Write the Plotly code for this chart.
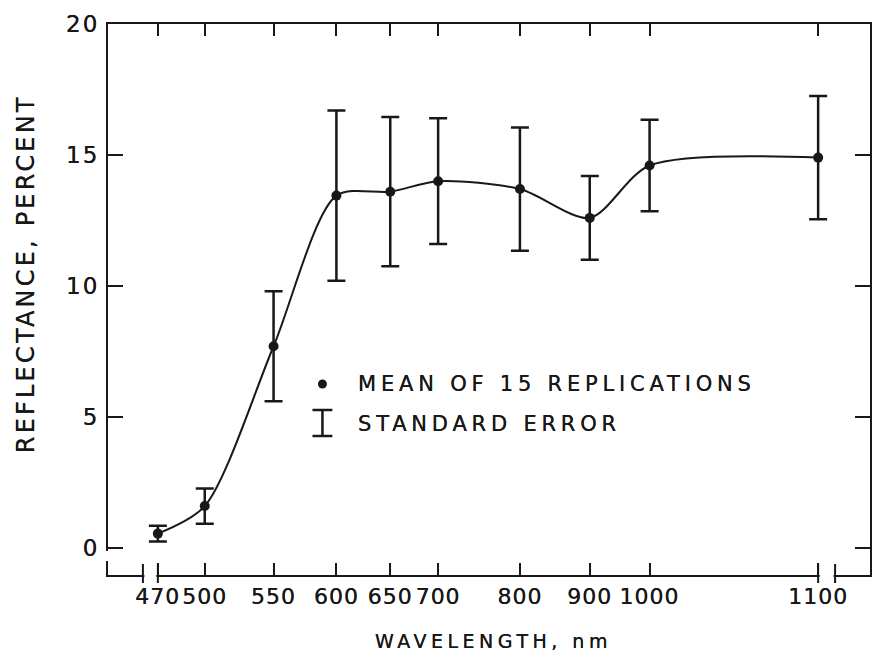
import numpy as np
import plotly.graph_objects as go

# ---------------- data ----------------
wavelength_nm = [470, 500, 550, 600, 650, 700, 800, 900, 1000, 1100]
mean_reflectance = [0.55, 1.6, 7.7, 13.45, 13.6, 14.0, 13.7, 12.6, 14.6, 14.9]
std_error = [0.3, 0.67, 2.1, 3.25, 2.85, 2.4, 2.35, 1.6, 1.75, 2.35]

x_tick_labels = ["470", "500", "550", "600", "650", "700", "800", "900", "1000", "1100"]
y_tick_values = [0, 5, 10, 15, 20]

# non-linear wavelength scale of the original figure (nm -> axis units)
SCALE_NM = [470, 500, 550, 600, 650, 700, 800, 900, 1000, 1100]
SCALE_POS = [50, 97, 166, 229, 283, 331, 413, 483, 543, 712]


def xscale(nm):
    return np.interp(nm, SCALE_NM, SCALE_POS)


# ---------------- geometry ----------------
W, H = 873, 656
L, R, T, B = 108, 872, 24, 575
INK = "#181818"
FONT = "DejaVu Sans"
SHADOW = "0 0 0.5px #181818"


def fx(p):
    return (p - L) / (R - L)


def fy(p):
    return (B - p) / (B - T)


def spaced(s, ls):
    return f'<span style="letter-spacing:{ls}px">{s}</span>'


fig = go.Figure()

fig.add_trace(go.Scatter(
    x=xscale(wavelength_nm),
    y=mean_reflectance,
    mode="lines+markers",
    line=dict(color=INK, width=2, shape="spline", smoothing=0.8),
    marker=dict(color=INK, size=10),
    error_y=dict(type="data", array=std_error, visible=True,
                 color=INK, thickness=2.5, width=9),
    showlegend=False,
    cliponaxis=False,
))

fig.update_xaxes(
    range=[0, R - L],
    tickvals=list(xscale(SCALE_NM)),
    ticktext=[spaced(t, 1) for t in x_tick_labels],
    tickangle=0,
    ticks="inside", ticklen=12, tickwidth=2, tickcolor=INK,
    showline=True, linewidth=2, linecolor=INK, mirror="ticks",
    showgrid=False, zeroline=False,
    tickfont=dict(family=FONT, size=22, color=INK, shadow=SHADOW),
    ticklabelstandoff=1,
)
fig.update_yaxes(
    range=[20 - (B - T) / 26.2, 20],
    tickvals=y_tick_values,
    ticktext=[spaced(str(v), 2) for v in y_tick_values],
    ticks="inside", ticklen=15, tickwidth=2, tickcolor=INK,
    showline=True, linewidth=2, linecolor=INK, mirror="ticks",
    showgrid=False, zeroline=False,
    tickfont=dict(family=FONT, size=23, color=INK, shadow=SHADOW),
    ticklabelstandoff=2,
)

shapes = []
# gap between y axis bottom and broken x axis
shapes.append(dict(type="rect", xref="paper", yref="paper",
                   x0=fx(104), x1=fx(112), y0=fy(561), y1=fy(551),
                   fillcolor="white", line=dict(width=0), layer="above"))
# axis breaks
p470 = L + xscale(470)
p1100 = L + xscale(1100)
for a, b in [(p470 - 15, p470), (p1100, p1100 + 17)]:
    shapes.append(dict(type="rect", xref="paper", yref="paper",
                       x0=fx(a + 1.5), x1=fx(b - 1.5), y0=fy(579), y1=fy(571),
                       fillcolor="white", line=dict(width=0), layer="above"))
    for p in (a, b):
        shapes.append(dict(type="line", xref="paper", yref="paper",
                           x0=fx(p), x1=fx(p), y0=fy(564), y1=fy(583),
                           line=dict(color=INK, width=2), layer="above"))

# legend glyphs
shapes.append(dict(type="circle", xref="paper", yref="paper",
                   x0=fx(318.5), x1=fx(327.5), y0=fy(388.5), y1=fy(379.5),
                   fillcolor=INK, line=dict(width=0), layer="above"))
shapes.append(dict(type="line", xref="paper", yref="paper",
                   x0=fx(323), x1=fx(323), y0=fy(410), y1=fy(436),
                   line=dict(color=INK, width=2.5), layer="above"))
for yy in (410, 436):
    shapes.append(dict(type="line", xref="paper", yref="paper",
                       x0=fx(313), x1=fx(333), y0=fy(yy), y1=fy(yy),
                       line=dict(color=INK, width=2.5), layer="above"))

annotations = [
    dict(text=spaced("MEAN OF 15 REPLICATIONS", 4.8), x=fx(357), y=fy(384),
         xref="paper", yref="paper", xanchor="left", yanchor="middle",
         showarrow=False, font=dict(family=FONT, size=21, color=INK, shadow=SHADOW)),
    dict(text=spaced("STANDARD ERROR", 4.8), x=fx(357), y=fy(424),
         xref="paper", yref="paper", xanchor="left", yanchor="middle",
         showarrow=False, font=dict(family=FONT, size=21, color=INK, shadow=SHADOW)),
    dict(text=spaced("WAVELENGTH, nm", 4.5), x=fx(495), y=fy(641),
         xref="paper", yref="paper", xanchor="center", yanchor="middle",
         showarrow=False, font=dict(family=FONT, size=19, color=INK, shadow=SHADOW)),
    dict(text=spaced("REFLECTANCE, PERCENT", 3.2), x=fx(26), y=fy(274),
         xref="paper", yref="paper", xanchor="center", yanchor="middle",
         textangle=-90, showarrow=False,
         font=dict(family=FONT, size=24, color=INK, shadow=SHADOW)),
]

fig.update_layout(
    width=W, height=H,
    margin=dict(l=L, r=W - R, t=T, b=H - B, pad=0),
    paper_bgcolor="white", plot_bgcolor="white",
    shapes=shapes, annotations=annotations,
    showlegend=False,
)

fig.write_html("out.html")
